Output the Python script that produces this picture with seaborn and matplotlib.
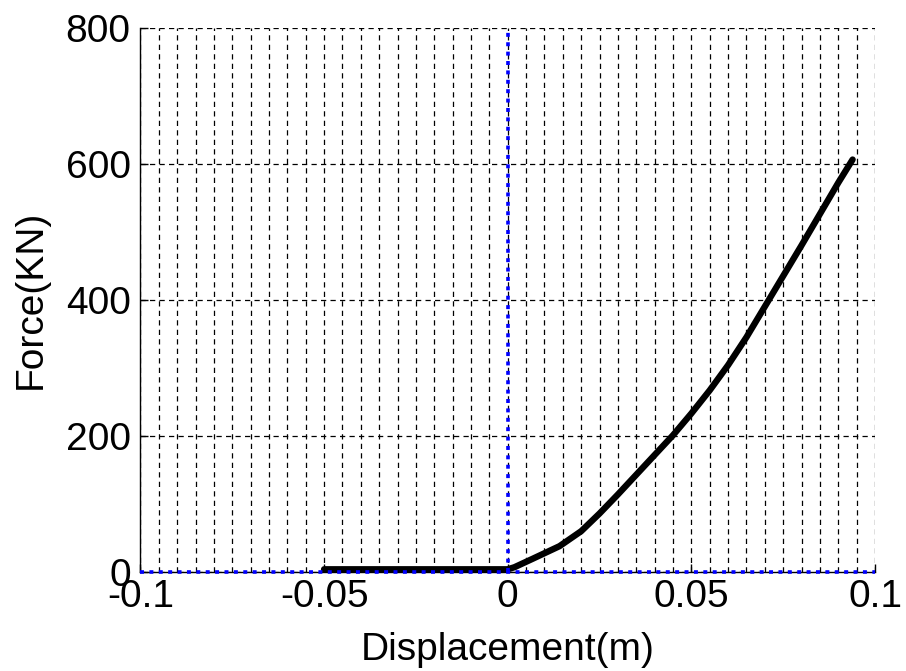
import numpy as np
import pandas as pd
import matplotlib
matplotlib.use("Agg")
import matplotlib.pyplot as plt
import seaborn as sns
from matplotlib.ticker import MultipleLocator

# ---- data ----
displacement = [-0.05, 0.0, 0.0018, 0.0068, 0.0141, 0.020, 0.025, 0.030, 0.035,
                0.040, 0.045, 0.050, 0.055, 0.060, 0.065, 0.070, 0.075,
                0.080, 0.085, 0.090, 0.0939]
force = [4, 4, 7, 19.5, 38, 60, 86, 114, 143,
         172, 201, 233, 267, 304, 345, 390, 435,
         480, 526, 572, 606]

x_ticks = [-0.1, -0.05, 0, 0.05, 0.1]
x_tick_labels = ["-0.1", "-0.05", "0", "0.05", "0.1"]
y_ticks = [0, 200, 400, 600, 800]
y_tick_labels = ["0", "200", "400", "600", "800"]

df = pd.DataFrame({"Displacement": displacement, "Force": force})

sns.set_style("white")
plt.rcParams["font.family"] = ["Liberation Sans", "DejaVu Sans"]

fig = plt.figure(figsize=(9.06, 6.71), dpi=100)
ax = fig.add_axes([0.155, 0.1475, 0.9658 - 0.155, 0.959 - 0.1475])

sns.lineplot(data=df, x="Displacement", y="Force", ax=ax, color="black",
             linewidth=4.6, sort=False, estimator=None, zorder=3)

blue_style = dict(color=(0, 0, 1), linewidth=2.6, linestyle=(0, (1.1, 1.5)),
                  zorder=4, clip_on=False)
ax.axhline(0, **blue_style)
ax.axvline(0, **blue_style)

ax.set_xlim(-0.1, 0.1)
ax.set_ylim(0, 800)
ax.set_xticks(x_ticks)
ax.set_xticklabels(x_tick_labels)
ax.set_yticks(y_ticks)
ax.set_yticklabels(y_tick_labels)
ax.xaxis.set_minor_locator(MultipleLocator(0.005))

grid_style = dict(color="black", linewidth=0.9, linestyle=(0, (4.2, 3.4)))
ax.grid(True, which="major", axis="both", **grid_style)
ax.grid(True, which="minor", axis="x", **grid_style)
ax.set_axisbelow(True)

for side in ["top", "right"]:
    ax.spines[side].set_visible(False)
for side in ["left", "bottom"]:
    ax.spines[side].set_color("black")
    ax.spines[side].set_linewidth(1.0)

ax.tick_params(axis="both", which="major", direction="in", length=6, width=1,
               color="black", labelsize=28, labelcolor="black",
               top=False, right=False, bottom=True, left=True)
ax.tick_params(axis="x", which="major", pad=5)
ax.tick_params(axis="y", which="major", pad=7)
ax.tick_params(axis="x", which="minor", length=0)

ax.set_xlabel("Displacement(m)", fontsize=28, color="black", labelpad=12)
ax.set_ylabel("Force(KN)", fontsize=28, color="black", labelpad=12)

fig.savefig("out.png", dpi=100, facecolor="white")
